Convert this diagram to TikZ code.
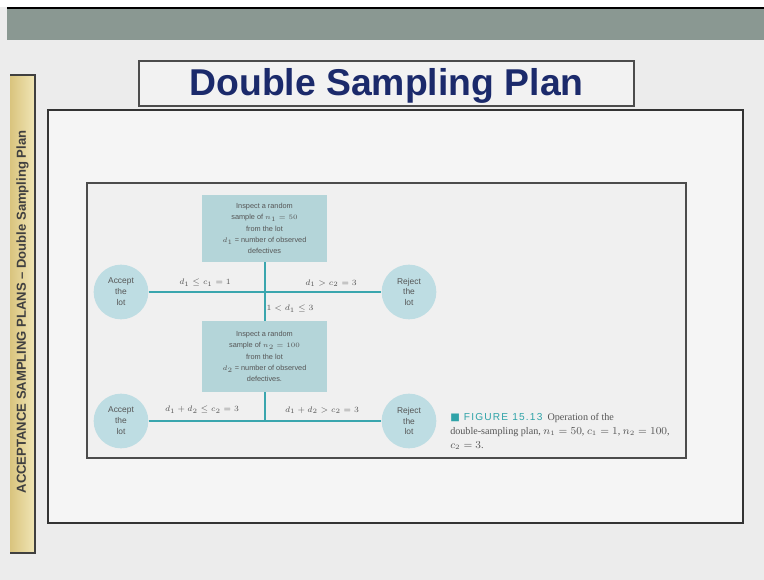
\documentclass[tikz,border=0pt]{standalone}
\usepackage{fontspec}
\setmainfont{Liberation Serif}
\setsansfont{Liberation Sans}
\newfontfamily\symfont{DejaVu Sans}
\usetikzlibrary{positioning}

\definecolor{slidebg}{HTML}{ECECEC}
\definecolor{bandgray}{HTML}{8A9892}
\definecolor{barleft}{HTML}{D9C47E}
\definecolor{barright}{HTML}{F1E6B6}
\definecolor{titleblue}{HTML}{1B2A6B}
\definecolor{boxteal}{HTML}{B4D5D9}
\definecolor{circteal}{HTML}{BEDDE3}
\definecolor{lineteal}{HTML}{3AA6AE}
\definecolor{capteal}{HTML}{2FA3A8}
\definecolor{figtext}{HTML}{555555}

\begin{document}
\begin{tikzpicture}[x=0.75pt,y=-0.75pt,
  inspbox/.style={rectangle,fill=boxteal,draw=none,minimum width=94pt,align=center,
    font=\sffamily\fontsize{5.5}{8.4}\selectfont,text=figtext},
  lotnode/.style={circle,fill=circteal,draw=none,minimum size=41pt,inner sep=0pt,align=center,
    font=\sffamily\fontsize{6.3}{8.2}\selectfont,text=figtext},
  rulelab/.style={font=\fontsize{6}{7}\selectfont,text=figtext,inner sep=1pt},
  flow/.style={lineteal,line width=1.5pt}]
\useasboundingbox (0,0) rectangle (764,580);
\fill[slidebg] (0,0) rectangle (764,580);
\fill[white] (0,0) rectangle (764,7);
\fill[bandgray] (7,8) rectangle (764,40);
\draw[black,line width=1.2pt] (7,8) -- (764,8);

% side bar
\shade[left color=barleft,right color=barright] (10,75) rectangle (35,553);
\draw[black!75,line width=1.5pt] (10,75) -- (35,75) -- (35,553) -- (10,553);
\node[rotate=90,font=\sffamily\bfseries\fontsize{9.8}{11}\selectfont,text=black!75] (side) at (22.5,312)
  {ACCEPTANCE SAMPLING PLANS -- Double Sampling Plan};

% frames
\draw[black!80,line width=1.6pt,fill=black!4] (48,110) rectangle (743,523);
\draw[black!70,line width=1.6pt,fill=black!5] (139,61) rectangle (634,106);
\node[font=\sffamily\bfseries\fontsize{28}{32}\selectfont,text=titleblue] (title) at (386.5,86) {Double Sampling Plan};
\draw[black!70,line width=1.5pt,fill=black!6] (87,183) rectangle (686,458);

% flow chart
\node[inspbox,minimum height=50pt] (insp1) at (264.5,228.5)
  {Inspect a random\\ sample of $n_1 = 50$\\ from the lot\\ $d_1$ = number of observed\\ defectives};
\node[inspbox,minimum height=53pt] (insp2) at (264.5,356.5)
  {Inspect a random\\ sample of $n_2 = 100$\\ from the lot\\ $d_2$ = number of observed\\ defectives.};
\node[lotnode] (acc1) at (121,292) {Accept\\ the\\ lot};
\node[lotnode] (rej1) at (409,292) {Reject\\ the\\ lot};
\node[lotnode] (acc2) at (121,421) {Accept\\ the\\ lot};
\node[lotnode] (rej2) at (409,421) {Reject\\ the\\ lot};
\coordinate (join2) at (264.5,421);

\draw[flow] (insp1.south) -- (insp2.north);
\draw[flow] (acc1.east) -- (rej1.west);
\draw[flow] (insp2.south) -- (join2);
\draw[flow] (acc2.east) -- (rej2.west);

\node[rulelab] (lab1) at (205,283) {$d_1 \le c_1 = 1$};
\node[rulelab] (lab2) at (331,283) {$d_1 > c_2 = 3$};
\node[rulelab] (lab3) at (290,309) {$1 < d_1 \le 3$};
\node[rulelab] (lab4) at (202,410) {$d_1 + d_2 \le c_2 = 3$};
\node[rulelab] (lab5) at (322,410) {$d_1 + d_2 > c_2 = 3$};

% caption
\node[anchor=north west,align=left,inner sep=0pt,text=figtext,
  font=\fontsize{7.6}{10.5}\selectfont] (caption) at (450,413)
  {{\sffamily\addfontfeatures{LetterSpace=12}\color{capteal}{\symfont ■} FIGURE 15.13}\enspace Operation of the\\
   double-sampling plan, $n_1 = 50$, $c_1 = 1$, $n_2 = 100$,\\
   $c_2 = 3$.};
\end{tikzpicture}
\end{document}
